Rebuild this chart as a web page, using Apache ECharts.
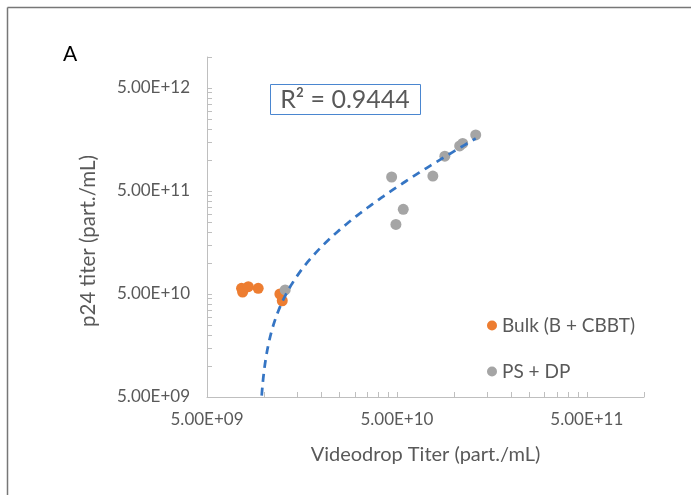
<!DOCTYPE html>
<html><head><meta charset="utf-8">
<script src="https://cdn.jsdelivr.net/npm/echarts@6/dist/echarts.min.js"></script>
<style>html,body{margin:0;padding:0;background:#fff;}#c{width:691px;height:495px;}</style>
</head><body><div id="c"></div>
<script>
// ---- data (raw values) ----
const bulkX = [7.6e9, 7.7e9, 8.25e9, 9.3e9, 1.21e10, 1.245e10];
const bulkY = [5.68e10, 5.23e10, 5.89e10, 5.68e10, 5.0e10, 4.3e10];
const psX = [1.29e10, 4.69e10, 4.94e10, 5.4e10, 7.73e10, 8.94e10, 1.07e11, 1.11e11, 1.30e11];
const psY = [5.47e10, 6.84e11, 2.37e11, 3.32e11, 6.99e11, 1.09e12, 1.37e12, 1.45e12, 1.75e12];
const xMajorTicks = [5e9, 5e10, 5e11];
const yMajorTicks = [5e9, 5e10, 5e11, 5e12];
const xRange = [5e9, 1e12];
const yRange = [5e9, 1e13];
const seriesNames = ['Bulk (B + CBBT)', 'PS + DP'];
const xTitle = 'Videodrop Titer (part./mL)';
const yTitle = 'p24 titer (part./mL)';
const r2Text = 'R² = 0.9444';
const panelLabel = 'A';

// ---- helpers ----
const L = Math.log10;
function fmt(v) {
  const p = Math.pow(10, v);
  const s = p.toExponential(2).toUpperCase();
  const m = s.split('E');
  const sign = m[1][0];
  let e = m[1].slice(1);
  if (e.length < 2) e = '0' + e;
  return m[0] + 'E' + sign + e;
}
function minorTicks(majors, max) {
  const out = [];
  majors.forEach(m => {
    out.push(L(m));
    for (let k = 2; k <= 9; k++) if (m * k <= max * 1.0000001) out.push(L(m * k));
  });
  return out;
}
const toPts = (xs, ys) => xs.map((x, i) => [L(x), L(ys[i])]);

// linear regression over all points (Excel linear trendline)
const allX = bulkX.concat(psX), allY = bulkY.concat(psY);
const n = allX.length;
const mx = allX.reduce((a, b) => a + b, 0) / n;
const my = allY.reduce((a, b) => a + b, 0) / n;
let sxx = 0, sxy = 0;
for (let i = 0; i < n; i++) { sxx += (allX[i] - mx) ** 2; sxy += (allX[i] - mx) * (allY[i] - my); }
const slope = sxy / sxx, icpt = my - slope * mx;
const xmin = Math.min(...allX), xmax = Math.max(...allX);
const trend = [];
for (let i = 0; i <= 400; i++) {
  const x = Math.pow(10, L(xmin) + (L(xmax) - L(xmin)) * i / 400);
  const y = slope * x + icpt;
  if (y > yRange[0] * 0.3) trend.push([L(x), L(y)]);
}

const txt = '#595959';
const font = 'Lato';
const chart = echarts.init(document.getElementById('c'));
chart.setOption({
  animation: false,
  backgroundColor: '#fff',
  textStyle: { fontFamily: font },
  grid: { left: 207, right: 47, top: 57, bottom: 98 },
  xAxis: {
    type: 'value', min: L(xRange[0]), max: L(xRange[1]),
    axisLine: { show: true, onZero: false, lineStyle: { color: '#bfbfbf', width: 1 } },
    axisTick: { show: true, inside: true, length: 5, customValues: minorTicks(xMajorTicks, xRange[1]).concat([L(xRange[1])]), lineStyle: { color: '#bfbfbf' } },
    axisLabel: { customValues: xMajorTicks.map(L), formatter: fmt, color: txt, fontSize: 17, margin: 14, fontFamily: font },
    splitLine: { show: false },
    name: xTitle, nameLocation: 'middle', nameGap: 48,
    nameTextStyle: { color: txt, fontSize: 20, fontFamily: font }
  },
  yAxis: {
    type: 'value', min: L(yRange[0]), max: L(yRange[1]),
    axisLine: { show: true, onZero: false, lineStyle: { color: '#bfbfbf', width: 1 } },
    axisTick: { show: true, inside: true, length: 5, customValues: minorTicks(yMajorTicks, yRange[1]), lineStyle: { color: '#bfbfbf' } },
    axisLabel: { customValues: yMajorTicks.map(L), formatter: fmt, color: txt, fontSize: 17, margin: 17, fontFamily: font },
    splitLine: { show: false }
  },
  legend: {
    data: seriesNames, orient: 'vertical', left: 482, top: 311,
    itemWidth: 10, itemHeight: 10, itemGap: 27, selectedMode: false,
    icon: 'circle',
    textStyle: { color: txt, fontSize: 19, fontFamily: font }
  },
  series: [
    { name: seriesNames[0], type: 'scatter', data: toPts(bulkX, bulkY), symbolSize: 11, itemStyle: { color: '#ED7D31', opacity: 1 }, z: 2 },
    { name: seriesNames[1], type: 'scatter', data: toPts(psX, psY), symbolSize: 11, itemStyle: { color: '#A5A5A5', opacity: 1 }, z: 2 },
    { name: 'trend', type: 'line', data: trend, showSymbol: false, symbol: 'none', smooth: false, clip: true,
      lineStyle: { color: '#3575c4', width: 2.75, type: [8, 6], cap: 'butt' }, z: 3 }
  ],
  graphic: [
    { type: 'line', shape: { x1: 7.5, y1: 7.5, x2: 691, y2: 7.5 }, style: { stroke: '#777', lineWidth: 1.5 } },
    { type: 'line', shape: { x1: 7.5, y1: 7.5, x2: 7.5, y2: 495 }, style: { stroke: '#777', lineWidth: 1.5 } },
    { type: 'text', left: 63, top: 44, style: { text: panelLabel, fontSize: 21, fill: '#000', fontFamily: font } },
    { type: 'text', x: 88, y: 241, rotation: Math.PI / 2, style: { text: yTitle, fontSize: 20.5, fill: txt, fontFamily: font, align: 'center', verticalAlign: 'middle' } },
    { type: 'rect', shape: { x: 270.5, y: 84.5, width: 150, height: 30 }, style: { fill: '#fff', stroke: '#4a86d0', lineWidth: 1 } },
    { type: 'text', x: 345, y: 100, style: { text: r2Text, fontSize: 25, fill: txt, fontFamily: font, align: 'center', verticalAlign: 'middle' } }
  ]
});
</script></body></html>
